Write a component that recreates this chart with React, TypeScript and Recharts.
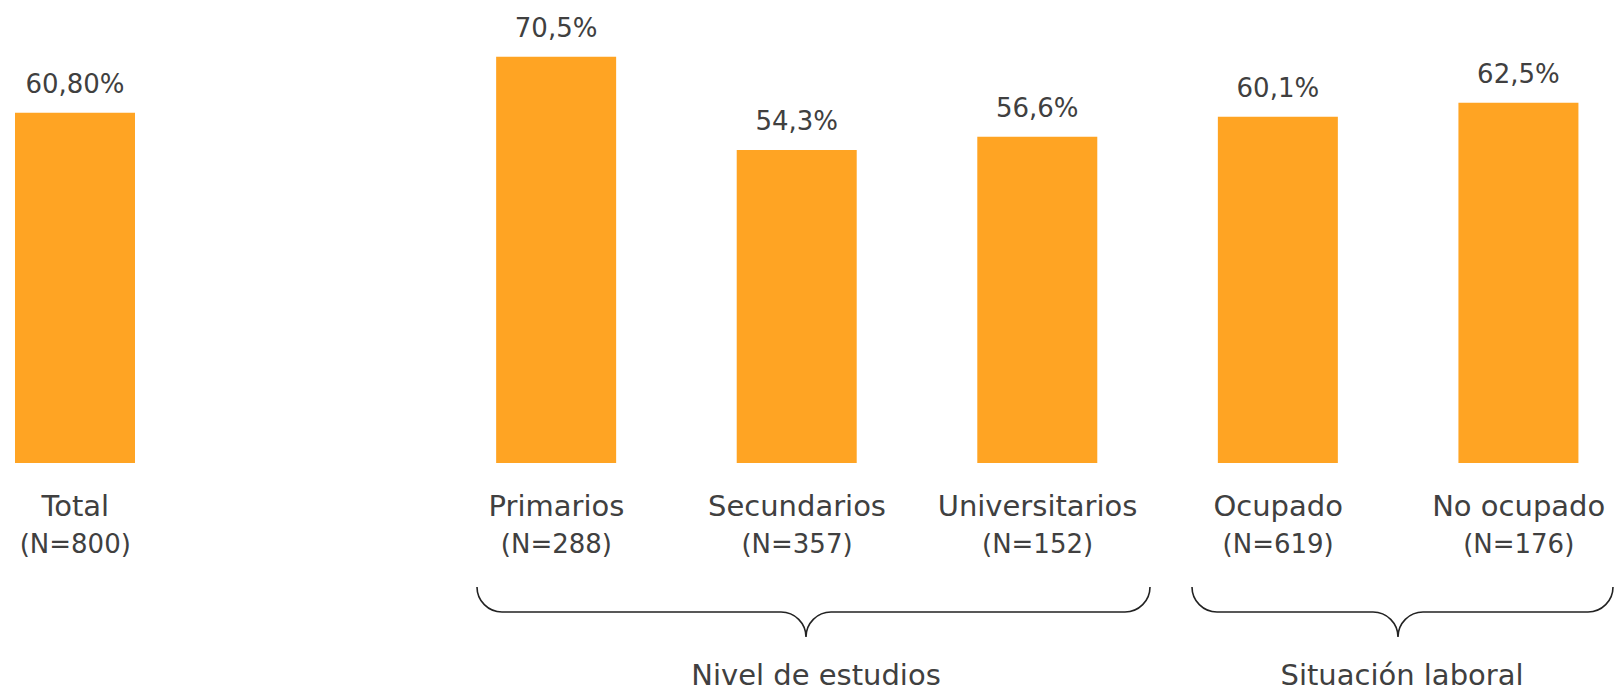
import React from 'react';
import { BarChart, Bar, XAxis, YAxis, LabelList } from 'recharts';

const categories = ['Total', '', 'Primarios', 'Secundarios', 'Universitarios', 'Ocupado', 'No ocupado'];
const sampleSizes = ['(N=800)', '', '(N=288)', '(N=357)', '(N=152)', '(N=619)', '(N=176)'];
const values: (number | null)[] = [60.8, null, 70.5, 54.3, 56.6, 60.1, 62.5];
const valueLabels = ['60,80%', '', '70,5%', '54,3%', '56,6%', '60,1%', '62,5%'];
const groupNames = ['Nivel de estudios', 'Situación laboral'];

const data = categories.map((c, i) => ({
  key: 'c' + i,
  name: c,
  n: sampleSizes[i],
  value: values[i],
  label: valueLabels[i],
}));

const FONT = "'DejaVu Sans', sans-serif";
const TEXT = '#404040';
const BAR = '#FFA423';

const CategoryTick = (props: any) => {
  const { x, y, payload } = props;
  const i = payload.index;
  return (
    <g>
      <text x={x} y={y + 53} textAnchor="middle" fontSize={29} fill={TEXT} fontFamily={FONT}>
        {categories[i]}
      </text>
      <text x={x} y={y + 90} textAnchor="middle" fontSize={26} fill={TEXT} fontFamily={FONT}>
        {sampleSizes[i]}
      </text>
    </g>
  );
};

const ValueLabel = (props: any) => {
  const { x, y, width, value } = props;
  if (!value || x == null) return null;
  return (
    <text x={x + width / 2} y={y - 20} textAnchor="middle" fontSize={26} fill={TEXT} fontFamily={FONT}>
      {value}
    </text>
  );
};

const bracePath = (l: number, r: number, tip: number, top: number, line: number, tipY: number) => {
  const rr = line - top;
  const rt = tipY - line;
  return [
    `M${l},${top}`,
    `A${rr},${rr} 0 0 0 ${l + rr},${line}`,
    `L${tip - rt},${line}`,
    `A${rt},${rt} 0 0 1 ${tip},${tipY}`,
    `A${rt},${rt} 0 0 1 ${tip + rt},${line}`,
    `L${r - rr},${line}`,
    `A${rr},${rr} 0 0 0 ${r},${top}`,
  ].join(' ');
};

export default function App() {
  return (
    <div style={{ position: 'absolute', left: 0, top: 0, width: 1622, height: 692, overflow: 'hidden', background: '#fff' }}>
      <div style={{ position: 'absolute', left: -45, top: 0 }}>
        <BarChart width={1684} height={692} data={data} margin={{ top: 2, right: 0, bottom: 129, left: 0 }}>
          <YAxis hide domain={[0, 80]} />
          <XAxis
            dataKey="key"
            height={100}
            axisLine={false}
            tickLine={false}
            tickSize={0}
            tickMargin={0}
            interval={0}
            tick={<CategoryTick />}
          />
          <Bar dataKey="value" fill={BAR} barSize={120} isAnimationActive={false}>
            <LabelList dataKey="label" content={<ValueLabel />} />
          </Bar>
        </BarChart>
      </div>
      <svg width={1622} height={692} style={{ position: 'absolute', left: 0, top: 0, pointerEvents: 'none' }}>
        <path d={bracePath(477, 1150, 806, 587, 612, 637)} fill="none" stroke="#222" strokeWidth={1.6} />
        <path d={bracePath(1192, 1613, 1398, 587, 612, 637)} fill="none" stroke="#222" strokeWidth={1.6} />
        <text x={816} y={685} textAnchor="middle" fontSize={29} fill={TEXT} fontFamily={FONT}>
          {groupNames[0]}
        </text>
        <text x={1402} y={685} textAnchor="middle" fontSize={29} fill={TEXT} fontFamily={FONT}>
          {groupNames[1]}
        </text>
      </svg>
    </div>
  );
}
